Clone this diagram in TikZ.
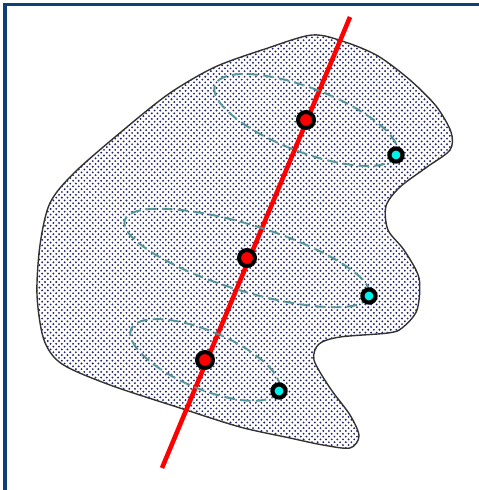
\documentclass[tikz,border=0pt]{standalone}
\usepackage{tikz}
\usepackage{xcolor}
\usetikzlibrary{patterns}

\definecolor{framecol}{RGB}{16,62,120}
\definecolor{orbitcol}{RGB}{85,150,150}
\definecolor{dotcol}{RGB}{35,35,105}
\definecolor{aqua}{RGB}{0,240,235}

% staggered dot raster
\pgfdeclarepatternformonly{stipple}{\pgfqpoint{-1pt}{-1pt}}{\pgfqpoint{4pt}{4pt}}{\pgfqpoint{3.2pt}{3.2pt}}{%
  \pgfpathcircle{\pgfqpoint{0pt}{0pt}}{.6pt}%
  \pgfpathcircle{\pgfqpoint{1.6pt}{1.6pt}}{.6pt}%
  \pgfusepath{fill}}

\tikzset{
  meanpt/.style={circle, draw=black, fill=red, line width=2.2pt, minimum size=9pt, inner sep=0pt},
  datapt/.style={circle, draw=black, fill=aqua, line width=2.4pt, minimum size=7.5pt, inner sep=0pt},
  orbit/.style={draw=orbitcol, line width=1.1pt, dash pattern=on 6pt off 3pt}
}

\begin{document}
\begin{tikzpicture}[x=0.02cm, y=-0.02cm]
    \useasboundingbox (0,0) rectangle (479,490);
    % frame (top and left only)
    \draw[framecol, line width=2pt] (5,490) -- (5,4.5) -- (479,4.5);
    % region
    \draw[black!80, line width=0.8pt, pattern=stipple, pattern color=dotcol]
      plot[smooth cycle, tension=0.5] coordinates {
        (312,35) (345,42) (378,56) (410,80) (436,106) (451,132) (450,150)
        (427,167) (400,187) (386,206) (388,230) (404,250) (419,278) (417,310)
        (402,328) (388,333) (340,337) (319,344) (314,360) (330,388) (350,415)
        (359,436) (350,448) (323,445) (290,438) (240,427) (180,408) (110,385)
        (62,364) (44,340) (37,295) (40,245) (50,203) (75,172) (127,127)
        (170,93) (215,67) (265,49)};
    % axis
    \coordinate (top) at (350,17);
    \coordinate (bot) at (162,468);
    \draw[red, line width=2.6pt] (bot) -- (top);
    % centres and points
    \node[meanpt] (m1) at (306,120) {};
    \node[meanpt] (m2) at (247,258) {};
    \node[meanpt] (m3) at (205,360) {};
    \draw[orbit, rotate around={-21:(m1)}] (m1) ellipse [x radius=97.5, y radius=32];
    \draw[orbit, rotate around={-17.2:(m2)}] (m2) ellipse [x radius=128, y radius=33];
    \draw[orbit, rotate around={-22.7:(m3)}] (m3) ellipse [x radius=80, y radius=29];
    \node[meanpt] at (m1) {};
    \node[meanpt] at (m2) {};
    \node[meanpt] at (m3) {};
    \node[datapt] (p1) at (396,155) {};
    \node[datapt] (p2) at (369,296) {};
    \node[datapt] (p3) at (279,391) {};
\end{tikzpicture}
\end{document}
